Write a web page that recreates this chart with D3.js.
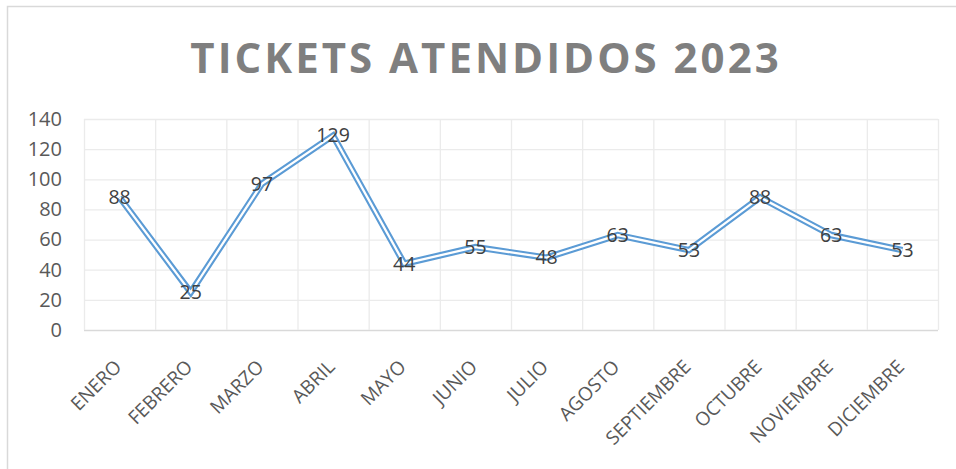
<!DOCTYPE html>
<html>
<head>
<meta charset="utf-8">
<script src="https://cdn.jsdelivr.net/npm/d3@7"></script>
<style>
  body { margin: 0; background: #fff; }
  text { font-family: "Open Sans", "DejaVu Sans", sans-serif; }
</style>
</head>
<body>
<svg width="956" height="469"></svg>
<script>
'use strict';

var months = ["ENERO", "FEBRERO", "MARZO", "ABRIL", "MAYO", "JUNIO", "JULIO",
              "AGOSTO", "SEPTIEMBRE", "OCTUBRE", "NOVIEMBRE", "DICIEMBRE"];
var tickets = [88, 25, 97, 129, 44, 55, 48, 63, 53, 88, 63, 53];
var yTicks = [0, 20, 40, 60, 80, 100, 120, 140];
var title = "TICKETS ATENDIDOS 2023";

var svg = d3.select("svg");
var plotLeft = 84, plotRight = 938, plotTop = 119, plotBottom = 330;

// chart frame
svg.append("path")
    .attr("d", "M7.5,469 V6.5 H956")
    .attr("fill", "none")
    .attr("stroke", "#d9d9d9")
    .attr("stroke-width", 1.5);

svg.append("text")
    .attr("x", 486)
    .attr("y", 73)
    .attr("text-anchor", "middle")
    .style("font-size", "42px")
    .style("font-weight", "bold")
    .style("letter-spacing", "3px")
    .style("fill", "#7f7f7f")
    .text(title);

var x = d3.scaleBand().domain(months).range([plotLeft, plotRight]);
var y = d3.scaleLinear().domain([0, 140]).range([plotBottom, plotTop]);

// gridlines
svg.append("g").selectAll("line.h")
    .data(yTicks)
    .enter().append("line")
    .attr("x1", plotLeft).attr("x2", plotRight)
    .attr("y1", function(d) { return y(d) + 0.5; })
    .attr("y2", function(d) { return y(d) + 0.5; })
    .attr("stroke", function(d) { return d === 0 ? "#d9d9d9" : "#ebebeb"; })
    .attr("stroke-width", 1.3);

svg.append("g").selectAll("line.v")
    .data(months.concat(["end"]))
    .enter().append("line")
    .attr("x1", function(d, i) { return plotLeft + i * x.step() + 0.5; })
    .attr("x2", function(d, i) { return plotLeft + i * x.step() + 0.5; })
    .attr("y1", plotTop).attr("y2", plotBottom)
    .attr("stroke", "#ebebeb")
    .attr("stroke-width", 1.3);

// y axis labels
var yAxis = d3.axisLeft(y).tickValues(yTicks).tickSize(0).tickPadding(0);
var gy = svg.append("g").attr("transform", "translate(62,0)").call(yAxis);
gy.select(".domain").remove();
gy.selectAll("text")
    .style("font-size", "20px")
    .style("fill", "#595959")
    .style("font-family", "'Open Sans', sans-serif");

// x axis labels
var xAxis = d3.axisBottom(x).tickSize(0).tickPadding(0);
var gx = svg.append("g").attr("transform", "translate(0," + plotBottom + ")").call(xAxis);
gx.select(".domain").remove();
gx.selectAll("text")
    .attr("text-anchor", "end")
    .attr("dy", null)
    .attr("y", 0)
    .attr("transform", "translate(3,38) rotate(-45)")
    .style("font-size", "19px")
    .style("fill", "#595959")
    .style("font-family", "'Open Sans', sans-serif");

// double line
var line = d3.line()
    .x(function(d, i) { return x(months[i]) + x.bandwidth() / 2; })
    .y(function(d) { return y(d); });

svg.append("path")
    .datum(tickets)
    .attr("d", line)
    .attr("fill", "none")
    .attr("stroke", "#5b9bd5")
    .attr("stroke-width", 6.5)
    .attr("stroke-linejoin", "miter");

svg.append("path")
    .datum(tickets)
    .attr("d", line)
    .attr("fill", "none")
    .attr("stroke", "#ffffff")
    .attr("stroke-width", 2.3)
    .attr("stroke-linejoin", "miter");

// data labels
svg.append("g").selectAll("text")
    .data(tickets)
    .enter().append("text")
    .attr("x", function(d, i) { return x(months[i]) + x.bandwidth() / 2; })
    .attr("y", function(d) { return y(d); })
    .attr("dy", "0.35em")
    .attr("text-anchor", "middle")
    .style("font-size", "19.5px")
    .style("fill", "#404040")
    .text(function(d) { return d; });
</script>
</body>
</html>
